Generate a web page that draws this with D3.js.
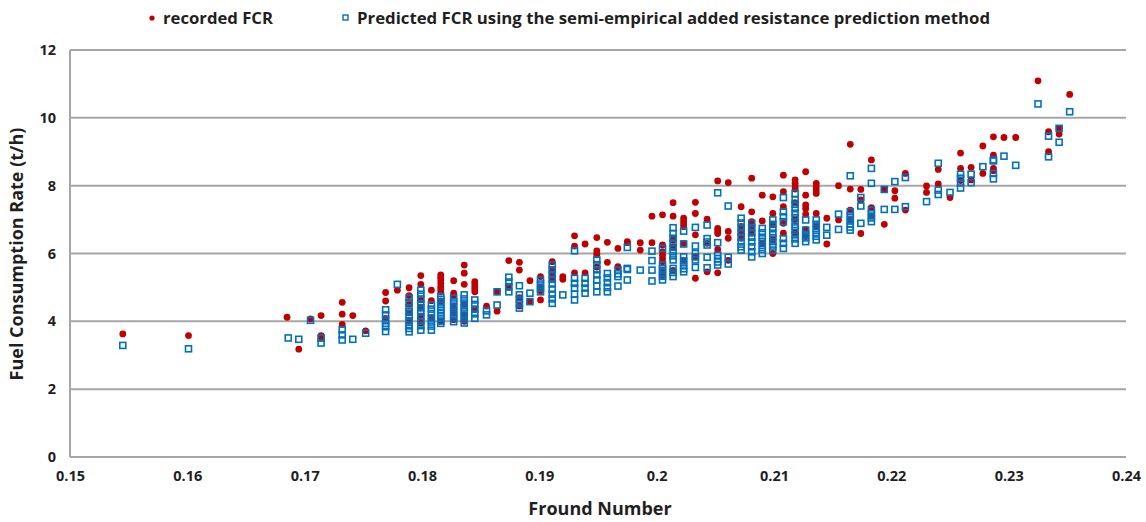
<!DOCTYPE html>
<html>
<head>
<meta charset="utf-8">
<script src="https://cdn.jsdelivr.net/npm/d3@7"></script>
<style>
  html, body { margin: 0; padding: 0; background: #fff; }
  svg { display: block; }
  text { font-family: "Liberation Sans Narrow", "Open Sans", "Liberation Sans", sans-serif; font-weight: bold; }
</style>
</head>
<body>
<svg id="chart" width="1146" height="522"></svg>
<script>
// Recorded fuel consumption rate, grouped by Froude number: [Fn, [FCR t/h ...]]
const recordedFCR = [
  [0.1545, [3.63]], [0.1601, [3.58]], [0.1685, [4.12]], [0.1695, [3.18]],
  [0.1705, [4.07]], [0.1714, [4.17, 3.58, 3.50]], [0.1732, [4.56, 4.21, 3.91]],
  [0.1741, [4.17]], [0.1752, [3.72]], [0.1769, [4.85, 4.60, 4.09]], [0.1779, [4.92]],
  [0.1789, [4.99, 4.76, 4.50, 4.25, 4.00]], [0.1799, [5.35, 5.09, 4.63, 4.39, 4.15, 3.95]],
  [0.1808, [4.92, 4.61, 4.10]], [0.1816, [5.37, 5.30, 5.22, 5.12, 5.02, 4.95, 4.87, 4.60, 4.00]],
  [0.1827, [5.20, 4.83, 4.76, 4.45, 4.25, 4.05]], [0.1836, [5.66, 5.42, 5.09, 4.50, 4.20, 4.00]],
  [0.1845, [5.17, 5.10, 5.02, 4.95, 4.87, 4.35]], [0.1855, [4.45]], [0.1864, [4.87, 4.30]],
  [0.1874, [5.79, 5.00]], [0.1883, [5.74, 5.51, 4.70, 4.45]], [0.1892, [5.20, 4.58]],
  [0.1901, [5.32, 5.00, 4.90, 4.63]], [0.1911, [5.76, 5.51, 5.37, 5.28]], [0.1920, [5.32, 5.24]],
  [0.1930, [6.52, 6.22, 5.43]], [0.1939, [6.28, 5.43]], [0.1949, [6.47, 6.08, 6.00, 5.96, 5.60]],
  [0.1958, [6.33, 5.74]], [0.1967, [6.15, 5.61]], [0.1975, [6.35, 6.32]], [0.1986, [6.32, 6.10]],
  [0.1996, [7.10, 6.32]], [0.2005, [7.14, 6.25, 6.05, 5.95, 5.85, 5.76, 5.50, 5.35]],
  [0.2014, [7.50, 7.10, 6.40, 6.20, 5.50]], [0.2023, [7.04, 6.95, 6.87, 6.79, 6.30, 5.80]],
  [0.2033, [7.51, 7.18, 6.55, 5.90, 5.27]], [0.2043, [7.01, 6.30, 5.46]],
  [0.2052, [8.14, 6.74, 6.66, 6.59, 6.12, 5.43]], [0.2061, [8.09, 6.65, 6.45, 5.80]],
  [0.2072, [7.38, 6.80, 6.60, 6.45]], [0.2081, [8.22, 7.23, 6.94, 6.85, 6.70, 6.60]],
  [0.2090, [7.72, 6.96, 6.30]], [0.2099, [7.67, 7.18, 6.85, 6.40, 6.00]],
  [0.2108, [8.31, 7.82, 7.38, 6.89, 6.60]], [0.2118, [8.17, 8.07, 7.97, 7.90, 7.50, 7.00, 6.60]],
  [0.2127, [8.41, 7.72, 7.43, 7.33, 7.16, 6.71, 6.50]], [0.2136, [8.07, 7.97, 7.87, 7.77, 7.18, 6.80]],
  [0.2145, [7.04, 6.28]], [0.2155, [8.00, 6.99]], [0.2165, [9.22, 7.90, 7.28, 7.00]],
  [0.2174, [7.89, 7.58, 6.59]], [0.2183, [8.76, 7.35, 7.10]], [0.2194, [7.89, 6.86]],
  [0.2203, [7.85, 7.63]], [0.2212, [8.36, 7.28]], [0.2230, [7.99, 7.80]], [0.2240, [8.48, 8.05]],
  [0.2250, [7.65]], [0.2259, [8.96, 8.51, 8.15]], [0.2268, [8.54, 8.17]], [0.2278, [9.17, 8.36]],
  [0.2287, [9.44, 8.90, 8.51, 8.44]], [0.2296, [9.42]], [0.2306, [9.42]], [0.2325, [11.09]],
  [0.2334, [9.59, 9.00]], [0.2343, [9.69, 9.52]], [0.2352, [10.69]]
];

// Predicted fuel consumption rate (semi-empirical added resistance method)
const predictedFCR = [
  [0.1545, [3.29]], [0.1601, [3.19]], [0.1686, [3.51]], [0.1695, [3.47]], [0.1705, [4.03]],
  [0.1714, [3.51, 3.36]], [0.1732, [3.75, 3.60, 3.45]], [0.1741, [3.47]], [0.1752, [3.65]],
  [0.1769, [4.34, 4.19, 4.04, 3.94, 3.84, 3.70]], [0.1779, [5.09]],
  [0.1789, [4.69, 4.55, 4.40, 4.28, 4.15, 4.02, 3.90, 3.79, 3.69]],
  [0.1799, [4.92, 4.80, 4.66, 4.52, 4.40, 4.27, 4.14, 4.00, 3.87, 3.74]],
  [0.1808, [4.48, 4.36, 4.23, 4.10, 3.98, 3.86, 3.74]],
  [0.1816, [4.73, 4.65, 4.57, 4.49, 4.41, 4.33, 4.25, 4.17, 4.09, 4.01, 3.94]],
  [0.1827, [4.69, 4.57, 4.45, 4.33, 4.21, 4.10, 3.99]],
  [0.1836, [4.78, 4.66, 4.54, 4.42, 4.30, 4.18, 4.06, 3.95]],
  [0.1845, [4.63, 4.50, 4.36, 4.22, 4.09]], [0.1855, [4.31, 4.19]], [0.1864, [4.87, 4.48]],
  [0.1874, [5.30, 5.16, 5.02, 4.87]], [0.1883, [5.05, 4.78, 4.65, 4.52, 4.39]],
  [0.1892, [4.83, 4.58]], [0.1901, [5.22, 5.10, 4.98, 4.87]],
  [0.1911, [5.66, 5.52, 5.38, 5.24, 5.10, 4.95, 4.80, 4.66, 4.53]], [0.1920, [4.78]],
  [0.1930, [6.08, 5.27, 5.12, 4.98, 4.80, 4.63]], [0.1939, [5.27, 5.12, 4.98, 4.83]],
  [0.1949, [5.81, 5.67, 5.52, 5.37, 5.22, 5.04, 4.87]], [0.1958, [5.41, 5.28, 5.14, 5.00, 4.87]],
  [0.1967, [5.51, 5.40, 5.32, 5.04]], [0.1975, [6.18, 5.56, 5.53, 5.22]], [0.1986, [5.51]],
  [0.1996, [6.07, 5.79, 5.51, 5.19]], [0.2005, [6.15, 5.66, 5.55, 5.44, 5.33, 5.22]],
  [0.2014, [6.76, 6.59, 6.45, 6.31, 6.18, 6.05, 5.93, 5.81, 5.56, 5.44, 5.32]],
  [0.2023, [6.66, 6.28, 5.90, 5.78, 5.66, 5.55, 5.46]],
  [0.2033, [6.77, 6.22, 6.00, 5.90, 5.81, 5.59]], [0.2043, [6.84, 6.44, 6.34, 6.25, 5.89, 5.58]],
  [0.2052, [7.79, 6.32, 5.95, 5.85, 5.75, 5.66]], [0.2061, [7.40, 5.89, 5.69]],
  [0.2072, [7.04, 6.90, 6.76, 6.62, 6.48, 6.34, 6.20, 6.10]],
  [0.2081, [6.89, 6.76, 6.62, 6.48, 6.34, 6.20, 6.05, 5.90]],
  [0.2090, [6.74, 6.61, 6.48, 6.36, 6.24, 6.12, 6.00]],
  [0.2099, [6.99, 6.86, 6.73, 6.60, 6.47, 6.35, 6.22, 6.10]],
  [0.2108, [7.65, 7.23, 7.08, 6.94, 6.44, 6.30, 6.15]],
  [0.2118, [7.77, 7.58, 7.45, 7.32, 7.19, 7.06, 6.93, 6.80, 6.68, 6.55, 6.43, 6.30]],
  [0.2127, [6.99, 6.69, 6.57, 6.46, 6.35]], [0.2136, [6.99, 6.86, 6.74, 6.62, 6.51, 6.40]],
  [0.2145, [6.77, 6.54]], [0.2155, [7.16, 6.71]],
  [0.2165, [8.29, 7.23, 7.11, 6.99, 6.88, 6.78, 6.69]], [0.2174, [7.65, 7.40, 6.89]],
  [0.2183, [8.51, 8.07, 7.28, 7.17, 7.05, 6.94]], [0.2194, [7.89, 7.30]], [0.2203, [8.12, 7.30]],
  [0.2212, [8.24, 7.38]], [0.2230, [7.53]], [0.2240, [8.66, 7.87, 7.74]], [0.2250, [7.80]],
  [0.2259, [8.34, 8.22, 8.08, 7.93]], [0.2268, [8.34, 8.09]], [0.2278, [8.56]],
  [0.2287, [8.76, 8.73, 8.36, 8.20]], [0.2296, [8.87]], [0.2306, [8.60]], [0.2325, [10.41]],
  [0.2334, [9.46, 8.85]], [0.2343, [9.69, 9.28]], [0.2352, [10.18]]
];

const xTicks = [0.15, 0.16, 0.17, 0.18, 0.19, 0.2, 0.21, 0.22, 0.23, 0.24];
const yTicks = [0, 2, 4, 6, 8, 10, 12];
const legendLabels = ["recorded FCR", "Predicted FCR using the semi-empirical added resistance prediction method"];

const RED = "#c00000", BLUE = "#0070c0", GRID = "#a6a6a6", TEXT = "#1f1f1f";

const svg = d3.select("#chart");
const plot = { left: 70, right: 1126, top: 50, bottom: 457 };

const x = d3.scaleLinear().domain([0.15, 0.24]).range([plot.left, plot.right]);
const y = d3.scaleLinear().domain([0, 12]).range([plot.bottom, plot.top]);

const flatten = cols => cols.flatMap(([fn, vals]) => vals.map(v => ({ fn, v })));
const recPts = flatten(recordedFCR);
const predPts = flatten(predictedFCR);

// horizontal gridlines
svg.append("g").selectAll("line").data(yTicks.filter(t => t > 0)).join("line")
  .attr("x1", plot.left).attr("x2", plot.right)
  .attr("y1", d => y(d)).attr("y2", d => y(d))
  .attr("stroke", GRID).attr("stroke-width", 2);

// axes
const yAxis = d3.axisLeft(y).tickValues(yTicks).tickSize(0).tickPadding(14).tickFormat(d3.format("d"));
const xAxis = d3.axisBottom(x).tickValues(xTicks).tickSize(0).tickPadding(14)
  .tickFormat(d => d3.format(".2~f")(d));

const gy = svg.append("g").attr("transform", `translate(${plot.left},0)`).call(yAxis);
const gx = svg.append("g").attr("transform", `translate(0,${plot.bottom})`).call(xAxis);
[gx, gy].forEach(g => {
  g.select(".domain").attr("stroke", GRID).attr("stroke-width", 2);
  g.selectAll("text").attr("fill", TEXT).attr("font-size", 14.5)
    .style("font-family", "'Liberation Sans Narrow', 'Open Sans', sans-serif").style("font-weight", "bold");
});
gx.select(".domain").attr("d", `M${plot.left},0H${plot.right}`);
gy.select(".domain").attr("d", `M0,${plot.top}V${plot.bottom}`);

// recorded points
svg.append("g").selectAll("circle").data(recPts).join("circle")
  .attr("cx", d => x(d.fn)).attr("cy", d => y(d.v)).attr("r", 3.4)
  .attr("fill", RED);

// predicted points
const s = 6;
svg.append("g").selectAll("rect").data(predPts).join("rect")
  .attr("x", d => x(d.fn) - s / 2).attr("y", d => y(d.v) - s / 2)
  .attr("width", s).attr("height", s)
  .attr("fill", "none").attr("stroke", BLUE).attr("stroke-width", 1.6);

// axis titles
svg.append("text").attr("x", 600).attr("y", 515).attr("text-anchor", "middle")
  .attr("font-size", 18).attr("fill", TEXT).text("Fround Number");
svg.append("text").attr("transform", "translate(23,254) rotate(-90)").attr("text-anchor", "middle")
  .attr("font-size", 18).attr("fill", TEXT).text("Fuel Consumption Rate (t/h)");

// legend
const lg = svg.append("g");
lg.append("circle").attr("cx", 152).attr("cy", 18).attr("r", 2.6).attr("fill", RED);
lg.append("text").attr("x", 163).attr("y", 24).attr("font-size", 16).attr("fill", TEXT)
  .attr("textLength", 110).attr("lengthAdjust", "spacingAndGlyphs").text(legendLabels[0]);
lg.append("rect").attr("x", 343).attr("y", 15).attr("width", 5).attr("height", 5)
  .attr("fill", "none").attr("stroke", BLUE).attr("stroke-width", 1.4);
lg.append("text").attr("x", 357).attr("y", 24).attr("font-size", 16).attr("fill", TEXT)
  .attr("textLength", 633).attr("lengthAdjust", "spacingAndGlyphs").text(legendLabels[1]);
</script>
</body>
</html>
